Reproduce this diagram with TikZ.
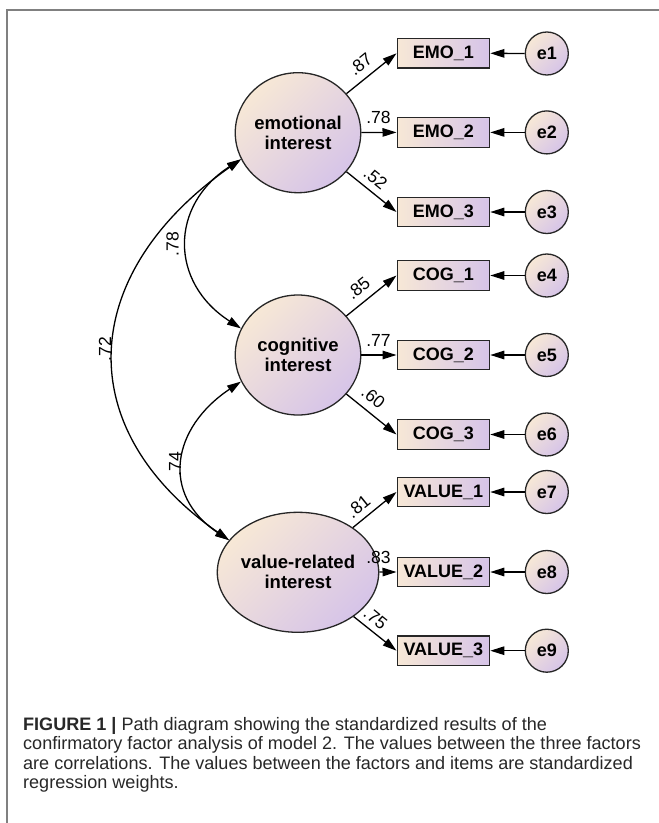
\documentclass[tikz,border=0pt]{standalone}
\usepackage{fontspec}
\setmainfont{Liberation Sans}
\usetikzlibrary{arrows.meta,shapes.geometric}
\definecolor{peach}{RGB}{247,232,214}
\definecolor{lav}{RGB}{214,196,232}
\definecolor{framegray}{RGB}{128,128,128}
\definecolor{captext}{RGB}{40,40,40}
\begin{document}
\begin{tikzpicture}[x=1bp,y=-1bp,
  latent/.style={ellipse, draw=black!85, line width=1.3bp, minimum width=125.5bp, minimum height=120bp, inner sep=0pt,
    top color=peach, bottom color=lav, shading angle=45, align=center,
    font=\fontsize{18.5bp}{20bp}\selectfont\bfseries},
  item/.style={rectangle, draw=black!85, line width=1.3bp, minimum width=92.5bp, minimum height=29.5bp, inner sep=0pt,
    left color=peach, right color=lav, font=\fontsize{18bp}{20bp}\selectfont\bfseries},
  errnode/.style={circle, draw=black!85, line width=1.3bp, minimum size=43bp, inner sep=0pt,
    top color=peach, bottom color=lav, shading angle=45, font=\fontsize{18bp}{20bp}\selectfont\bfseries},
  loadarrow/.style={line width=1.3bp, -{Triangle[length=14bp,width=8.5bp]}},
  corr/.style={line width=1.3bp, {Triangle[length=14bp,width=8.5bp]}-{Triangle[length=14bp,width=8.5bp]}},
  coef/.style={font=\fontsize{17.5bp}{17.5bp}\selectfont, inner sep=0pt},
  capline/.style={anchor=base west, inner sep=0pt, text=captext, font=\fontsize{18.05bp}{19bp}\selectfont},
]
\useasboundingbox (0,0) rectangle (659,823);
\fill[white] (0,0) rectangle (659,823);
% frame
\coordinate (fb) at (7,823);
\coordinate (fc) at (7,10);
\coordinate (fr) at (659,10);
\draw[framegray, line width=1.5bp] (fb) -- (fc) -- (fr);

% latent factors
\node[latent] (emo) at (298,132.7) {emotional\\interest};
\node[latent] (cog) at (298,355) {cognitive\\interest};
\node[latent] (val) at (298,572.3) {value-related\\interest};

% items
\node[item] (m1) at (443.4,53.3) {EMO\_1};
\node[item] (m2) at (443.4,132.4) {EMO\_2};
\node[item] (m3) at (443.4,212) {EMO\_3};
\node[item] (m4) at (443.4,275.5) {COG\_1};
\node[item] (m5) at (443.4,355) {COG\_2};
\node[item] (m6) at (443.4,434.5) {COG\_3};
\node[item] (m7) at (443.4,492) {VALUE\_1};
\node[item] (m8) at (443.4,572) {VALUE\_2};
\node[item] (m9) at (443.4,650.7) {VALUE\_3};

% errors
\foreach \i/\y in {1/53.5,2/132.4,3/212,4/275.5,5/355,6/434.5,7/492,8/572,9/650.7}{
  \node[errnode] (e\i) at (546.8,\y) {e\i};
  \draw[loadarrow] (e\i.west) -- (m\i.east);
}

% loadings
\draw[loadarrow] (emo) -- (m1.west);
\draw[loadarrow] (emo) -- (m2.west);
\draw[loadarrow] (emo) -- (m3.west);
\draw[loadarrow] (cog) -- (m4.west);
\draw[loadarrow] (cog) -- (m5.west);
\draw[loadarrow] (cog) -- (m6.west);
\draw[loadarrow] (val) -- (m7.west);
\draw[loadarrow] (val) -- (m8.west);
\draw[loadarrow] (val) -- (m9.west);

\node[coef, rotate=39] (l1) at (360.5,64) {.87};
\node[coef] (l2) at (378.5,117) {.78};
\node[coef, rotate=-39] (l3) at (375.5,178.5) {.52};
\node[coef, rotate=39] (l4) at (358.3,288.3) {.85};
\node[coef] (l5) at (378.5,340) {.77};
\node[coef, rotate=-39] (l6) at (373.3,397.3) {.60};
\node[coef, rotate=39] (l7) at (358.4,506.7) {.81};
\node[coef] (l8) at (378.5,557) {.83};
\node[coef, rotate=-39] (l9) at (375.5,618.3) {.75};

% correlations
\draw[corr] (emo.205) .. controls +(-161.3,113) and +(-161.3,-113) .. (val.155);
\draw[corr] (emo.205) .. controls +(-71.6,46) and +(-71.6,-46) .. (cog.155);
\draw[corr] (cog.205) .. controls +(-69,46) and +(-69,-46) .. (val.155);
\node[coef, rotate=90] (c1) at (172.5,244) {.78};
\node[coef, rotate=90] (c2) at (175,464) {.74};
\node[coef, rotate=90] (c3) at (105,349) {.72};

% caption
\node[capline] (cap1) at (23,730) {\textbf{FIGURE 1 |} Path diagram showing the standardized results of the};
\node[capline] (cap2) at (23,749.5) {confirmatory factor analysis of model 2. The values between the three factors};
\node[capline] (cap3) at (23,769) {are correlations. The values between the factors and items are standardized};
\node[capline] (cap4) at (23,788.5) {regression weights.};
\end{tikzpicture}
\end{document}
